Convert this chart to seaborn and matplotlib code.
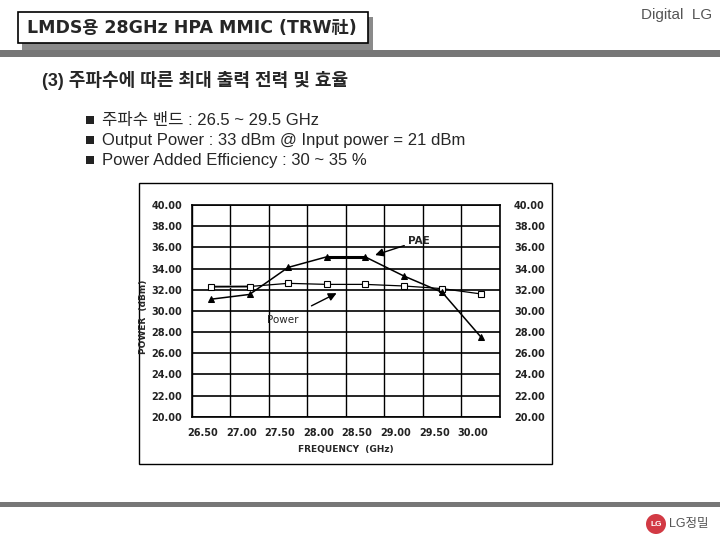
import numpy as np
import pandas as pd
import matplotlib
matplotlib.use("Agg")
import matplotlib.pyplot as plt
import matplotlib.transforms as mtransforms
from matplotlib.patches import Rectangle, Circle
import seaborn as sns

# data
freq = [26.5, 27.0, 27.5, 28.0, 28.5, 29.0, 29.5, 30.0]
power = [32.28, 32.3, 32.6, 32.5, 32.5, 32.35, 32.1, 31.6]
pae = [31.1, 31.55, 34.1, 35.1, 35.1, 33.3, 31.75, 27.55]
yticks = np.arange(20, 41, 2)

sns.set_style("white")
plt.rcParams["font.family"] = ["Liberation Sans", "Noto Sans CJK KR", "DejaVu Sans"]
wide = ["DejaVu Sans", "Noto Sans CJK KR"]

fig = plt.figure(figsize=(7.2, 5.4), dpi=100)
fig.patch.set_facecolor("white")

# slide decoration in pixel coordinates
bg = fig.add_axes([0, 0, 1, 1], zorder=0)
bg.set_xlim(0, 720)
bg.set_ylim(540, 0)
bg.axis("off")

bg.add_patch(Rectangle((22, 17), 351, 33, facecolor="#8a8a8a", edgecolor="none"))
bg.add_patch(Rectangle((18, 12), 350, 31, facecolor="white", edgecolor="black", lw=1.2))
bg.text(27, 28, "LMDS용 28GHz HPA MMIC (TRW社)", fontsize=12.5, fontweight="bold",
        family=wide, va="center", ha="left")
bg.text(712, 15, "Digital  LG", fontsize=11, color="#555555", ha="right", va="center")
bg.add_patch(Rectangle((0, 50), 720, 7, facecolor="#777777", edgecolor="none"))

bg.text(42, 80, "(3) 주파수에 따른 최대 출력 전력 및 효율", fontsize=13,
        fontweight="bold", va="center", ha="left")
bullets = ["주파수 밴드 : 26.5 ~ 29.5 GHz",
           "Output Power : 33 dBm @ Input power = 21 dBm",
           "Power Added Efficiency : 30 ~ 35 %"]
for i, b in enumerate(bullets):
    y = 120 + 20 * i
    bg.add_patch(Rectangle((86, y - 4), 8, 8, facecolor="#222222", edgecolor="none"))
    bg.text(102, y, b, fontsize=12, va="center", ha="left")

bg.add_patch(Rectangle((139, 183), 413, 281, facecolor="none", edgecolor="black", lw=1))

bg.add_patch(Rectangle((0, 502), 720, 5, facecolor="#777777", edgecolor="none"))
bg.add_patch(Circle((656, 524), 10, facecolor="#d23a44", edgecolor="none"))
bg.text(656, 525, "LG", fontsize=6, color="white", fontweight="bold", ha="center", va="center")
bg.text(669, 524, "LG정밀", fontsize=9, color="#555555", ha="left", va="center")

# chart
ax = fig.add_axes([191.7 / 720, 1 - 416.7 / 540, (500 - 191.7) / 720, (416.7 - 205) / 540],
                  zorder=2)
df = pd.DataFrame({"freq": freq, "power": power, "pae": pae})

sns.lineplot(data=df, x="freq", y="power", ax=ax, color="black", lw=0.9,
             marker="s", markersize=4, markerfacecolor="white", markeredgecolor="black",
             markeredgewidth=0.8)
sns.lineplot(data=df, x="freq", y="pae", ax=ax, color="black", lw=1.1,
             marker="^", markersize=5, markerfacecolor="black", markeredgecolor="black")
# thicker segments seen in the scan
sns.lineplot(data=df.iloc[3:5], x="freq", y="pae", ax=ax, color="black", lw=2.2)
sns.lineplot(data=df.iloc[0:2], x="freq", y="power", ax=ax, color="#999999", lw=2.0, zorder=1)

ax.set_xlim(26.25, 30.25)
ax.set_ylim(20, 40)
ax.set_xticks(freq)
ax.set_xticklabels([f"{f:.2f}" for f in freq])
ax.set_xticks(np.arange(26.25, 30.26, 0.5), minor=True)
ax.set_yticks(yticks)
ax.set_yticklabels([f"{v:.2f}" for v in yticks])
ax.grid(False)
ax.grid(True, which="minor", axis="x", color="black", lw=1.0)
ax.grid(True, which="major", axis="y", color="black", lw=1.2)
ax.tick_params(which="both", length=0)
ax.tick_params(axis="x", pad=8, labelsize=7)
ax.tick_params(axis="y", pad=7, labelsize=7)
for lab in ax.get_xticklabels() + ax.get_yticklabels():
    lab.set_fontfamily("DejaVu Sans")
    lab.set_fontweight("bold")
    lab.set_color("#222222")
offset = mtransforms.ScaledTranslation(-8 / 100, 0, fig.dpi_scale_trans)
for lab in ax.get_xticklabels():
    lab.set_transform(lab.get_transform() + offset)
for s in ax.spines.values():
    s.set_color("black")
    s.set_linewidth(1.2)

ax.set_xlabel("FREQUENCY  (GHz)", fontsize=6.5, fontweight="bold", family="DejaVu Sans",
              labelpad=5)
ax.set_ylabel("POWER  (dBm)", fontsize=6.5, fontweight="bold", family="DejaVu Sans")
ax.yaxis.set_label_coords(-0.142, 0.47)

ax2 = ax.twinx()
ax2.set_ylim(20, 40)
ax2.set_yticks(yticks)
ax2.set_yticklabels([f"{v:.2f}" for v in yticks])
ax2.tick_params(length=0, pad=10, labelsize=7)
for lab in ax2.get_yticklabels():
    lab.set_fontfamily("DejaVu Sans")
    lab.set_fontweight("bold")
    lab.set_color("#222222")
for s in ax2.spines.values():
    s.set_visible(False)

ax.annotate("PAE", xy=(28.63, 35.27), xytext=(29.05, 36.6), fontsize=7.5,
            fontweight="bold", family="DejaVu Sans", ha="left", va="center",
            arrowprops=dict(arrowstyle="-|>", color="black", lw=1, mutation_scale=12,
                            shrinkA=0, shrinkB=0))
ax.annotate("Power", xy=(28.13, 31.67), xytext=(27.43, 29.1), fontsize=7.5,
            family="DejaVu Sans", ha="center", va="center",
            arrowprops=dict(arrowstyle="-|>", color="black", lw=1, mutation_scale=12,
                            shrinkA=10, shrinkB=0))

fig.savefig("out.png", dpi=100)
